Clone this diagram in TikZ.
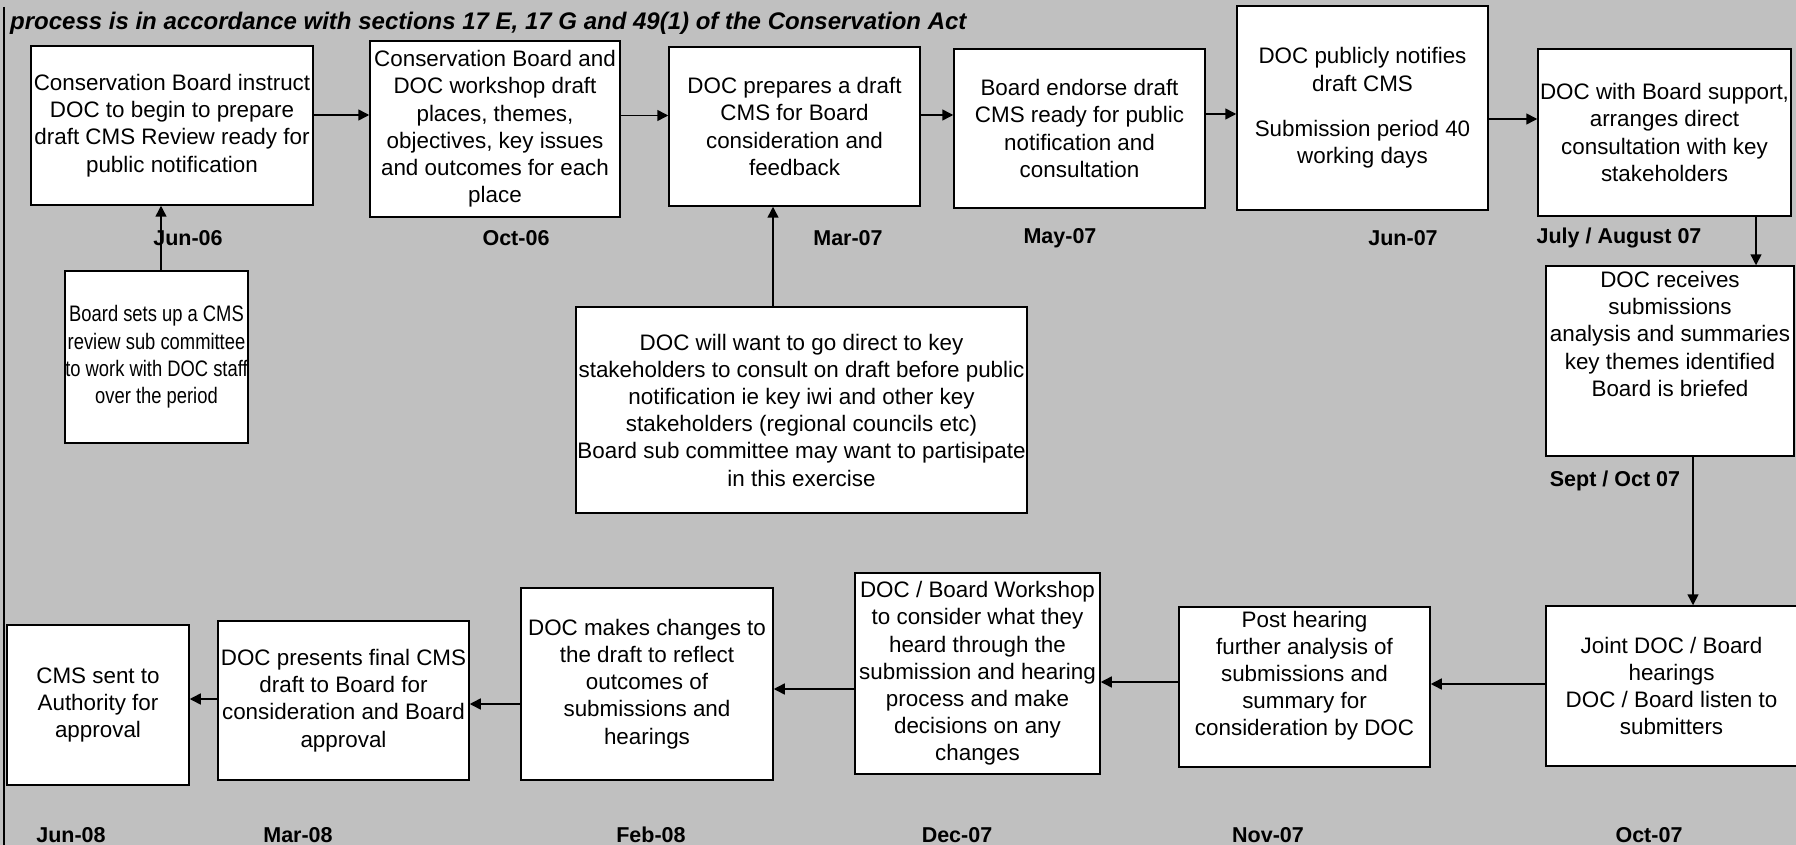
\documentclass[tikz,border=0pt]{standalone}
\usepackage{fontspec}
\setmainfont{Liberation Sans}
\newfontfamily\narrowfont[FakeStretch=0.82]{Liberation Sans}
\usetikzlibrary{arrows.meta}
\definecolor{bg}{RGB}{192,192,192}
\newcommand\boxfont{\fontsize{22.4}{27.2}\selectfont}
\newcommand\narrowboxfont{\narrowfont\fontsize{22.4}{27.2}\selectfont}
\newcommand\datefont{\fontsize{21.5}{26}\selectfont\bfseries}
\newcommand\titlefont{\fontsize{24}{28}\selectfont\bfseries\itshape}
\tikzset{
  box/.style={draw=black, line width=1.5pt, fill=white, align=center, inner sep=0pt, font=\boxfont},
  datelbl/.style={font=\datefont, inner sep=0pt},
  arr/.style={line width=1.5pt, -{Triangle[length=11pt,width=11pt]}}
}
\begin{document}
\begin{tikzpicture}[x=1pt,y=-1pt]
\fill[bg] (0,0) rectangle (1796,845);
\useasboundingbox (0,0) rectangle (1796,845);
\draw[line width=1.5pt] (4,7) -- (4,845);
\node[anchor=base west, font=\titlefont, inner sep=0pt] (title) at (10,30)
  {process is in accordance with sections 17 E, 17 G and 49(1) of the Conservation Act};

% top row
\node[box, minimum width=282pt, minimum height=159pt] (B1) at (172,125.5)
  {Conservation Board instruct\\DOC to begin to prepare\\draft CMS Review ready for\\public notification};
\node[box, minimum width=250pt, minimum height=176pt] (B2) at (495,129)
  {Conservation Board and\\DOC workshop draft\\places, themes,\\objectives, key issues\\and outcomes for each\\place};
\node[box, minimum width=251pt, minimum height=159pt] (B3) at (794.5,126.5)
  {DOC prepares a draft\\CMS for Board\\consideration and\\feedback};
\node[box, minimum width=251pt, minimum height=159pt] (B4) at (1079.5,128.5)
  {Board endorse draft\\CMS ready for public\\notification and\\consultation};
\node[box, minimum width=251pt, minimum height=204pt] (B5) at (1362.5,108)
  {DOC publicly notifies\\draft CMS\\[18pt]Submission period 40\\working days};
\node[box, minimum width=253pt, minimum height=167pt] (B6) at (1664.5,132.5)
  {DOC with Board support,\\arranges direct\\consultation with key\\stakeholders};

% top dates
\node[datelbl] (d1) at (188,238) {Jun-06};
\node[datelbl] (d2) at (516,238) {Oct-06};
\node[datelbl] (d3) at (848,238) {Mar-07};
\node[datelbl] (d4) at (1060,238) {May-07};
\node[datelbl] (d5) at (1403,238) {Jun-07};
\node[datelbl] (d6) at (1619,238) {July / August 07};

% sub boxes
\node[box, font=\narrowboxfont, minimum width=183pt, minimum height=172pt] (S1) at (156.5,357)
  {Board sets up a CMS\\review sub committee\\to work with DOC staff\\over the period};
\node[box, minimum width=451pt, minimum height=206pt] (S2) at (801.5,410)
  {DOC will want to go direct to key\\stakeholders to consult on draft before public\\notification ie key iwi and other key\\stakeholders (regional councils etc)\\Board sub committee may want to partisipate\\in this exercise};

% right column
\node[box, minimum width=248pt, minimum height=190pt] (B7) at (1670,361)
  {DOC receives\\submissions\\analysis and summaries\\key themes identified\\Board is briefed\\\mbox{}\\\mbox{}};
\node[datelbl] (d7) at (1615,481) {Sept / Oct 07};

% bottom row
\node[box, minimum width=251pt, minimum height=160pt] (B8) at (1671.5,686)
  {Joint DOC / Board\\hearings\\DOC / Board listen to\\submitters};
\node[box, minimum width=251pt, minimum height=160pt] (B9) at (1304.5,687)
  {Post hearing\\further analysis of\\submissions and\\summary for\\consideration by DOC\\\mbox{}};
\node[box, minimum width=245pt, minimum height=201pt] (B10) at (977.5,673.5)
  {DOC / Board Workshop\\to consider what they\\heard through the\\submission and hearing\\process and make\\decisions on any\\changes};
\node[box, minimum width=252pt, minimum height=192pt] (B11) at (647,684)
  {DOC makes changes to\\the draft to reflect\\outcomes of\\submissions and\\hearings};
\node[box, minimum width=251pt, minimum height=159pt] (B12) at (343.5,700.5)
  {DOC presents final CMS\\draft to Board for\\consideration and Board\\approval};
\node[box, minimum width=182pt, minimum height=160pt] (B13) at (98,705)
  {CMS sent to\\Authority for\\approval};

% bottom dates
\node[datelbl] (e1) at (71,835) {Jun-08};
\node[datelbl] (e2) at (298,835) {Mar-08};
\node[datelbl] (e3) at (651,835) {Feb-08};
\node[datelbl] (e4) at (957,835) {Dec-07};
\node[datelbl] (e5) at (1268,835) {Nov-07};
\node[datelbl] (e6) at (1649,835) {Oct-07};

% connectors
\draw[arr] ([yshift=10.5pt]B1.east) -- ([yshift=10.5pt]B1.east -| B2.west);
\draw[arr] ([yshift=13.5pt]B2.east) -- ([yshift=13.5pt]B2.east -| B3.west);
\draw[arr] ([yshift=11.5pt]B3.east) -- ([yshift=11.5pt]B3.east -| B4.west);
\draw[arr] ([yshift=14.5pt]B4.east) -- ([yshift=14.5pt]B4.east -| B5.west);
\draw[arr] ([yshift=-11pt]B5.east) -- ([yshift=-11pt]B5.east -| B6.west);
\draw[arr] ([xshift=4.5pt]S1.north) -- ([xshift=4.5pt]S1.north |- B1.south);
\draw[arr] ([xshift=-28.5pt]S2.north) -- ([xshift=-28.5pt]S2.north |- B3.south);
\draw[arr] ([xshift=91.5pt]B6.south) -- ([xshift=91.5pt]B6.south |- B7.north);
\draw[arr] ([xshift=23pt]B7.south) -- ([xshift=23pt]B7.south |- B8.north);
\draw[arr] ([yshift=2pt]B8.west) -- ([yshift=2pt]B8.west -| B9.east);
\draw[arr] ([yshift=5pt]B9.west) -- ([yshift=5pt]B9.west -| B10.east);
\draw[arr] ([yshift=-15.5pt]B10.west) -- ([yshift=-15.5pt]B10.west -| B11.east);
\draw[arr] ([yshift=-20pt]B11.west) -- ([yshift=-20pt]B11.west -| B12.east);
\draw[arr] ([yshift=1.5pt]B12.west) -- ([yshift=1.5pt]B12.west -| B13.east);
\end{tikzpicture}
\end{document}
